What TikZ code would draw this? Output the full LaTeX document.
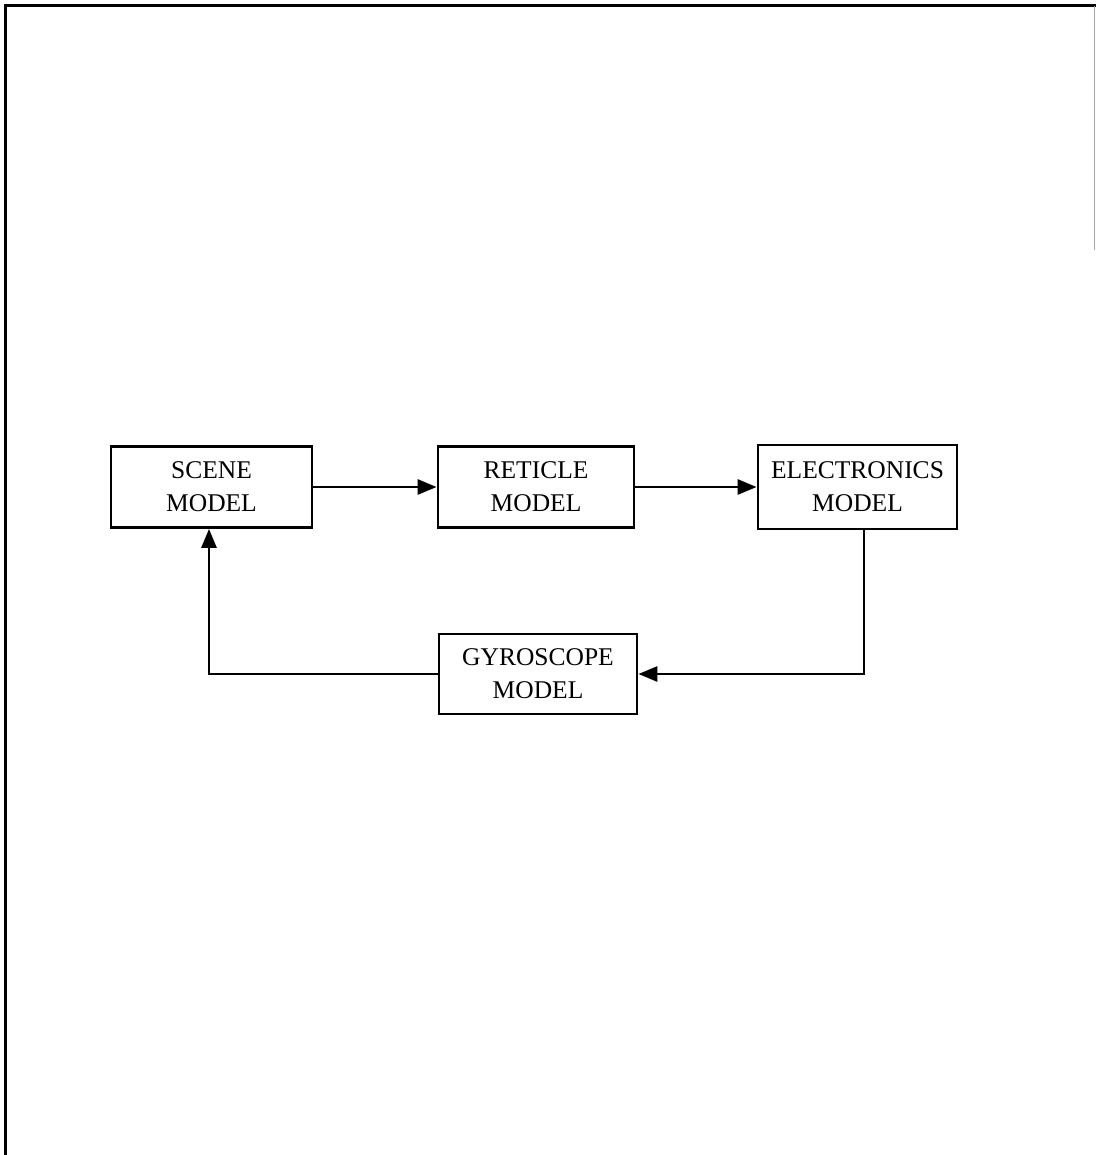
\documentclass[tikz,border=0pt]{standalone}
\usepackage{fontspec}
\setmainfont{Liberation Serif}
\usepackage{tikz}
\usetikzlibrary{arrows.meta, positioning}

\begin{document}
\begin{tikzpicture}[
    x=1pt, y=-1pt,
    model/.style={draw, line width=2.8pt, minimum width=198pt, minimum height=81pt, inner sep=0pt, align=center, font=\fontsize{25.5}{33}\selectfont},
    link/.style={line width=2.8pt},
    >={Triangle[length=19pt, width=15pt]}
]
  \useasboundingbox (0,0) rectangle (1096,1155);

  % page frame
  \draw[line width=3pt] (5,1155) -- (5,6) -- (1096,6);
  \draw[line width=0.8pt, black!35] (1094,6) -- (1094,250);

  \node[model, minimum width=201pt] (SM) at (211.5, 487) {SCENE\\MODEL};
  \node[model, minimum width=196pt] (RM) at (536, 487) {RETICLE\\MODEL};
  \node[model, minimum width=199pt, minimum height=84pt] (EM) at (857.5, 487) {ELECTRONICS\\MODEL};
  \node[model, minimum height=80pt] (GM) at (538, 674) {GYROSCOPE\\MODEL};

  \draw[link, ->] (SM) -- (RM);
  \draw[link, ->] (RM) -- (EM);

  % feedback loop
  \draw[link, ->] (EM.south -| 864,0) |- (GM.east);
  \draw[link, ->] (GM.west) -| (209, 0 |- SM.south);
\end{tikzpicture}
\end{document}
